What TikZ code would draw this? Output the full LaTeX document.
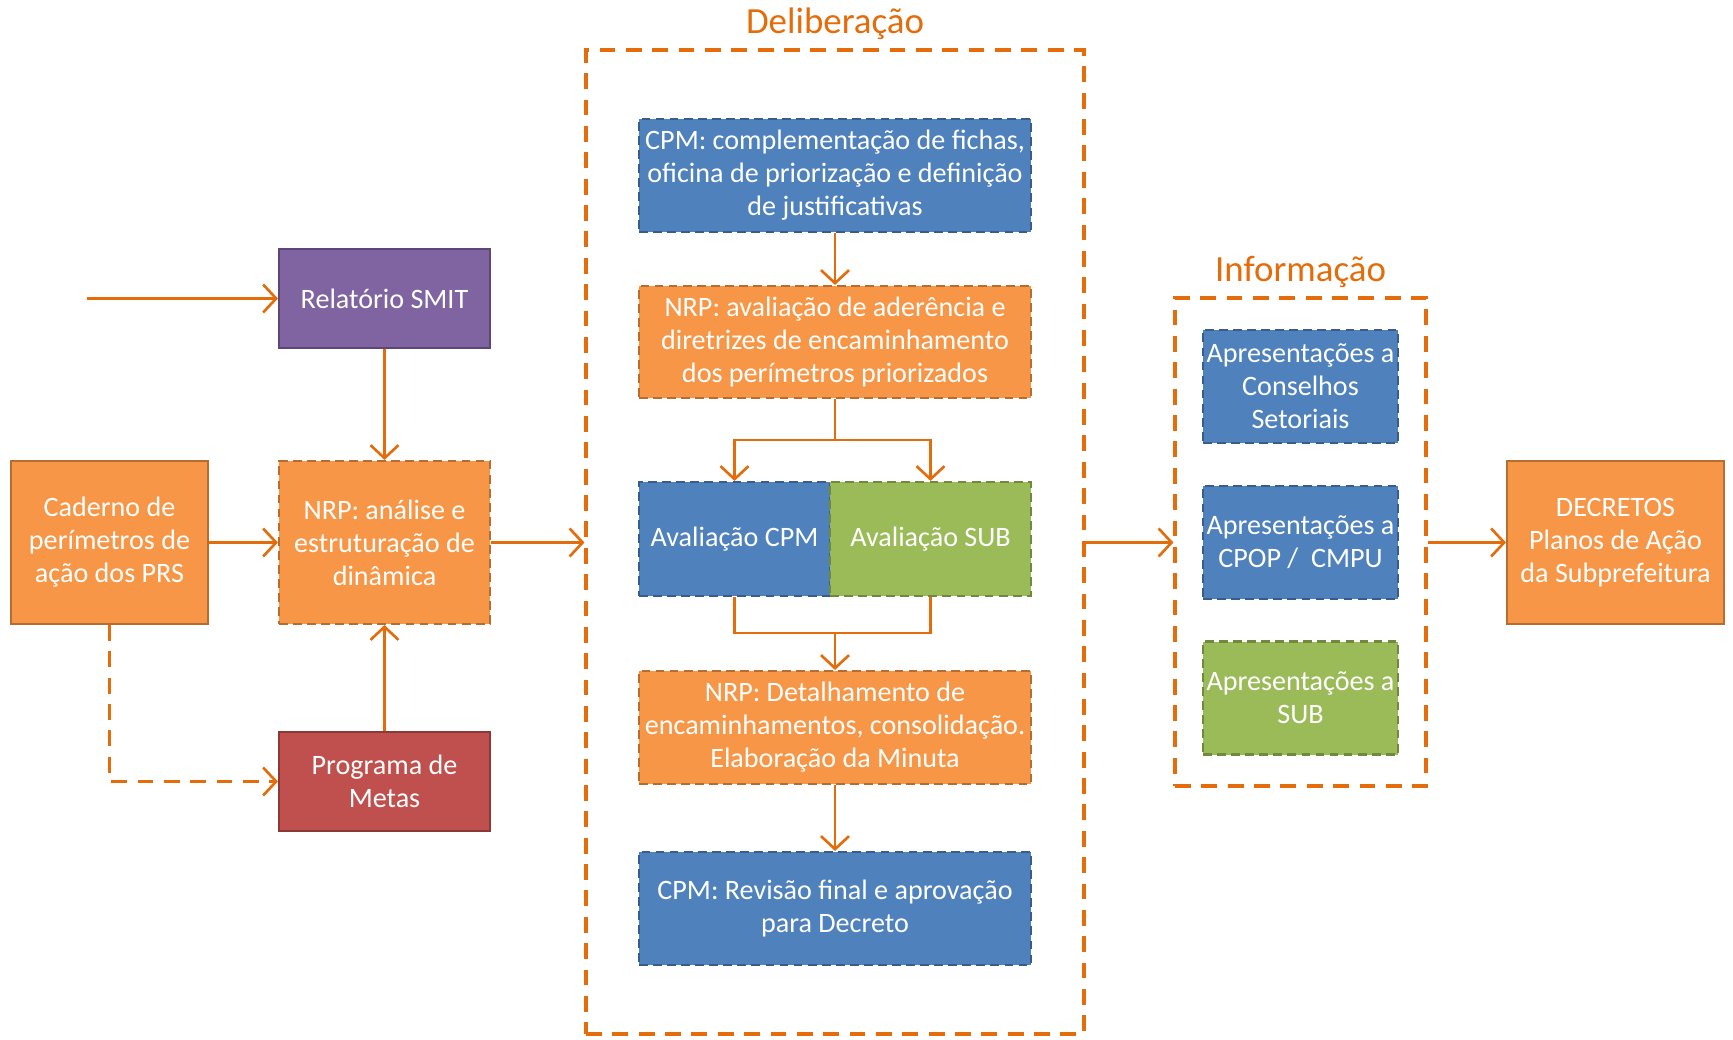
\documentclass[tikz,border=0pt]{standalone}
\usepackage{fontspec}
\setmainfont{Carlito}
\usetikzlibrary{arrows.meta, positioning}

\definecolor{arrowor}{HTML}{E46C0A}
\definecolor{blfill}{HTML}{4F81BD}
\definecolor{blline}{HTML}{385D8A}
\definecolor{orfill}{HTML}{F79646}
\definecolor{orline}{HTML}{B66D31}
\definecolor{grfill}{HTML}{9BBB59}
\definecolor{grline}{HTML}{71893F}
\definecolor{pufill}{HTML}{8064A2}
\definecolor{puline}{HTML}{5C4776}
\definecolor{refill}{HTML}{C0504D}
\definecolor{reline}{HTML}{8C3836}

\begin{document}
\begin{tikzpicture}[>={Straight Barb[length=1.3mm,width=2.8mm]},
  box/.style={draw, line width=0.6pt, text=white, align=center, inner sep=1pt,
    font=\fontsize{8}{9.4}\selectfont},
  dbox/.style={box, dash pattern=on 2.5pt off 1.5pt},
  blue/.style={dbox, fill=blfill, draw=blline},
  orange/.style={dbox, fill=orfill, draw=orline},
  green/.style={dbox, fill=grfill, draw=grline},
  frame/.style={draw=arrowor, line width=0.9pt, dash pattern=on 4.5pt off 3pt},
  title/.style={text=arrowor, font=\fontsize{10.5}{12}\selectfont},
  flow/.style={draw=arrowor, line width=0.75pt}]
\useasboundingbox (0,0) rectangle (17.33,-10.40);

% entrada
\node[box, fill=pufill, draw=puline, minimum width=2.11cm, minimum height=0.99cm] (smit) at (3.845,-2.985) {Relatório SMIT};
\node[box, fill=orfill, draw=orline, minimum width=1.97cm, minimum height=1.63cm] (cad) at (1.095,-5.425) {Caderno de\\perímetros de\\ação dos PRS};
\node[orange, minimum width=2.11cm, minimum height=1.63cm] (nrpa) at (3.845,-5.425) {NRP: análise e\\estruturação de\\dinâmica};
\node[box, fill=refill, draw=reline, minimum width=2.11cm, minimum height=0.99cm] (metas) at (3.845,-7.815) {Programa de\\Metas};
\coordinate (in) at (0.87,-2.985);

% Deliberacao
\node[frame, minimum width=4.98cm, minimum height=9.84cm] (delib) at (8.35,-5.42) {};
\node[title] (tdelib) at (8.35,-0.24) {Deliberação};
\node[blue, minimum width=3.92cm, minimum height=1.13cm] (cpm1) at (8.35,-1.755) {CPM: complementação de fichas,\\oficina de priorização e definição\\de justificativas};
\node[orange, minimum width=3.92cm, minimum height=1.12cm] (nrp1) at (8.35,-3.42) {NRP: avaliação de aderência e\\diretrizes de encaminhamento\\dos perímetros priorizados};
\node[blue, minimum width=1.91cm, minimum height=1.14cm] (avcpm) at (7.345,-5.39) {Avaliação CPM};
\node[green, minimum width=2.01cm, minimum height=1.14cm] (avsub) at (9.305,-5.39) {Avaliação SUB};
\node[orange, minimum width=3.92cm, minimum height=1.13cm] (nrp2) at (8.35,-7.275) {NRP: Detalhamento de\\encaminhamentos, consolidação.\\Elaboração da Minuta};
\node[blue, minimum width=3.92cm, minimum height=1.13cm] (cpm2) at (8.35,-9.085) {CPM: Revisão final e aprovação\\para Decreto};
\coordinate (br) at (8.35,-4.40);
\coordinate (mg) at (8.35,-6.33);

% Informacao
\node[frame, minimum width=2.51cm, minimum height=4.88cm] (info) at (13.005,-5.42) {};
\node[title] (tinfo) at (13.005,-2.72) {Informação};
\node[blue, minimum width=1.91cm, minimum height=1.13cm] (ap1) at (13.005,-3.865) {Apresentações a\\Conselhos\\Setoriais};
\node[blue, minimum width=1.91cm, minimum height=1.13cm] (ap2) at (13.005,-5.425) {Apresentações a\\CPOP /\ \ CMPU};
\node[green, minimum width=1.91cm, minimum height=1.13cm] (ap3) at (13.005,-6.98) {Apresentações a\\SUB};

\node[box, fill=orfill, draw=orline, minimum width=2.17cm, minimum height=1.63cm] (decr) at (16.155,-5.425) {DECRETOS\\Planos de Ação\\da Subprefeitura};

% setas
\draw[flow,->] (in) -- (smit);
\draw[flow,->] (smit) -- (nrpa);
\draw[flow,->] (cad) -- (nrpa);
\draw[flow,->] (metas) -- (nrpa);
\draw[flow,->,dash pattern=on 4.5pt off 3pt] (cad.south) |- (metas.west);
\draw[flow,->] (nrpa) -- (delib.west |- nrpa);
\draw[flow,->] (cpm1) -- (nrp1);
\draw[flow] (nrp1.south) -- (br);
\draw[flow,->] (br) -| (avcpm.north);
\draw[flow,->] (br) -| (avsub.north);
\draw[flow] (avcpm.south) |- (mg) -| (avsub.south);
\draw[flow,->] (mg) -- (nrp2.north);
\draw[flow,->] (nrp2) -- (cpm2);
\draw[flow,->] (delib.east |- nrpa) -- (info.west |- nrpa);
\draw[flow,->] (info.east |- decr) -- (decr);
\end{tikzpicture}
\end{document}
